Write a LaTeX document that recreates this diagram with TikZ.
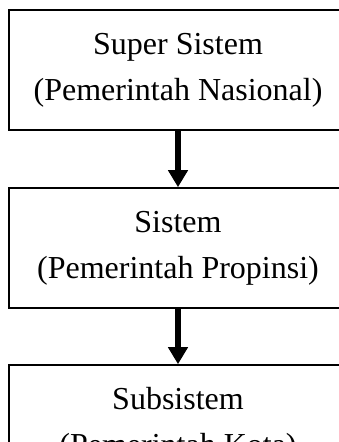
\documentclass[tikz,border=0pt]{standalone}
\usepackage{fontspec}
\setmainfont{Liberation Serif}
\usetikzlibrary{arrows.meta}
\begin{document}
\begin{tikzpicture}[x=1pt,y=1pt,
  levelbox/.style={draw,line width=1.6pt,minimum width=338pt,minimum height=120pt,
    align=center,inner sep=0pt,font=\fontsize{32}{46}\selectfont},
  flowarrow/.style={line width=5.5pt,-{Triangle[length=17pt,width=19pt]}}]
\useasboundingbox (0,0) rectangle (338,442);
\node[levelbox] (sup) at (178,372) {Super Sistem\\(Pemerintah Nasional)};
\node[levelbox] (sis) at (178,194) {Sistem\\(Pemerintah Propinsi)};
\node[levelbox] (sub) at (178,17) {Subsistem\\(Pemerintah Kota)};
\draw[flowarrow] (sup.south) -- (sis.north);
\draw[flowarrow] (sis.south) -- (sub.north);
\end{tikzpicture}
\end{document}
